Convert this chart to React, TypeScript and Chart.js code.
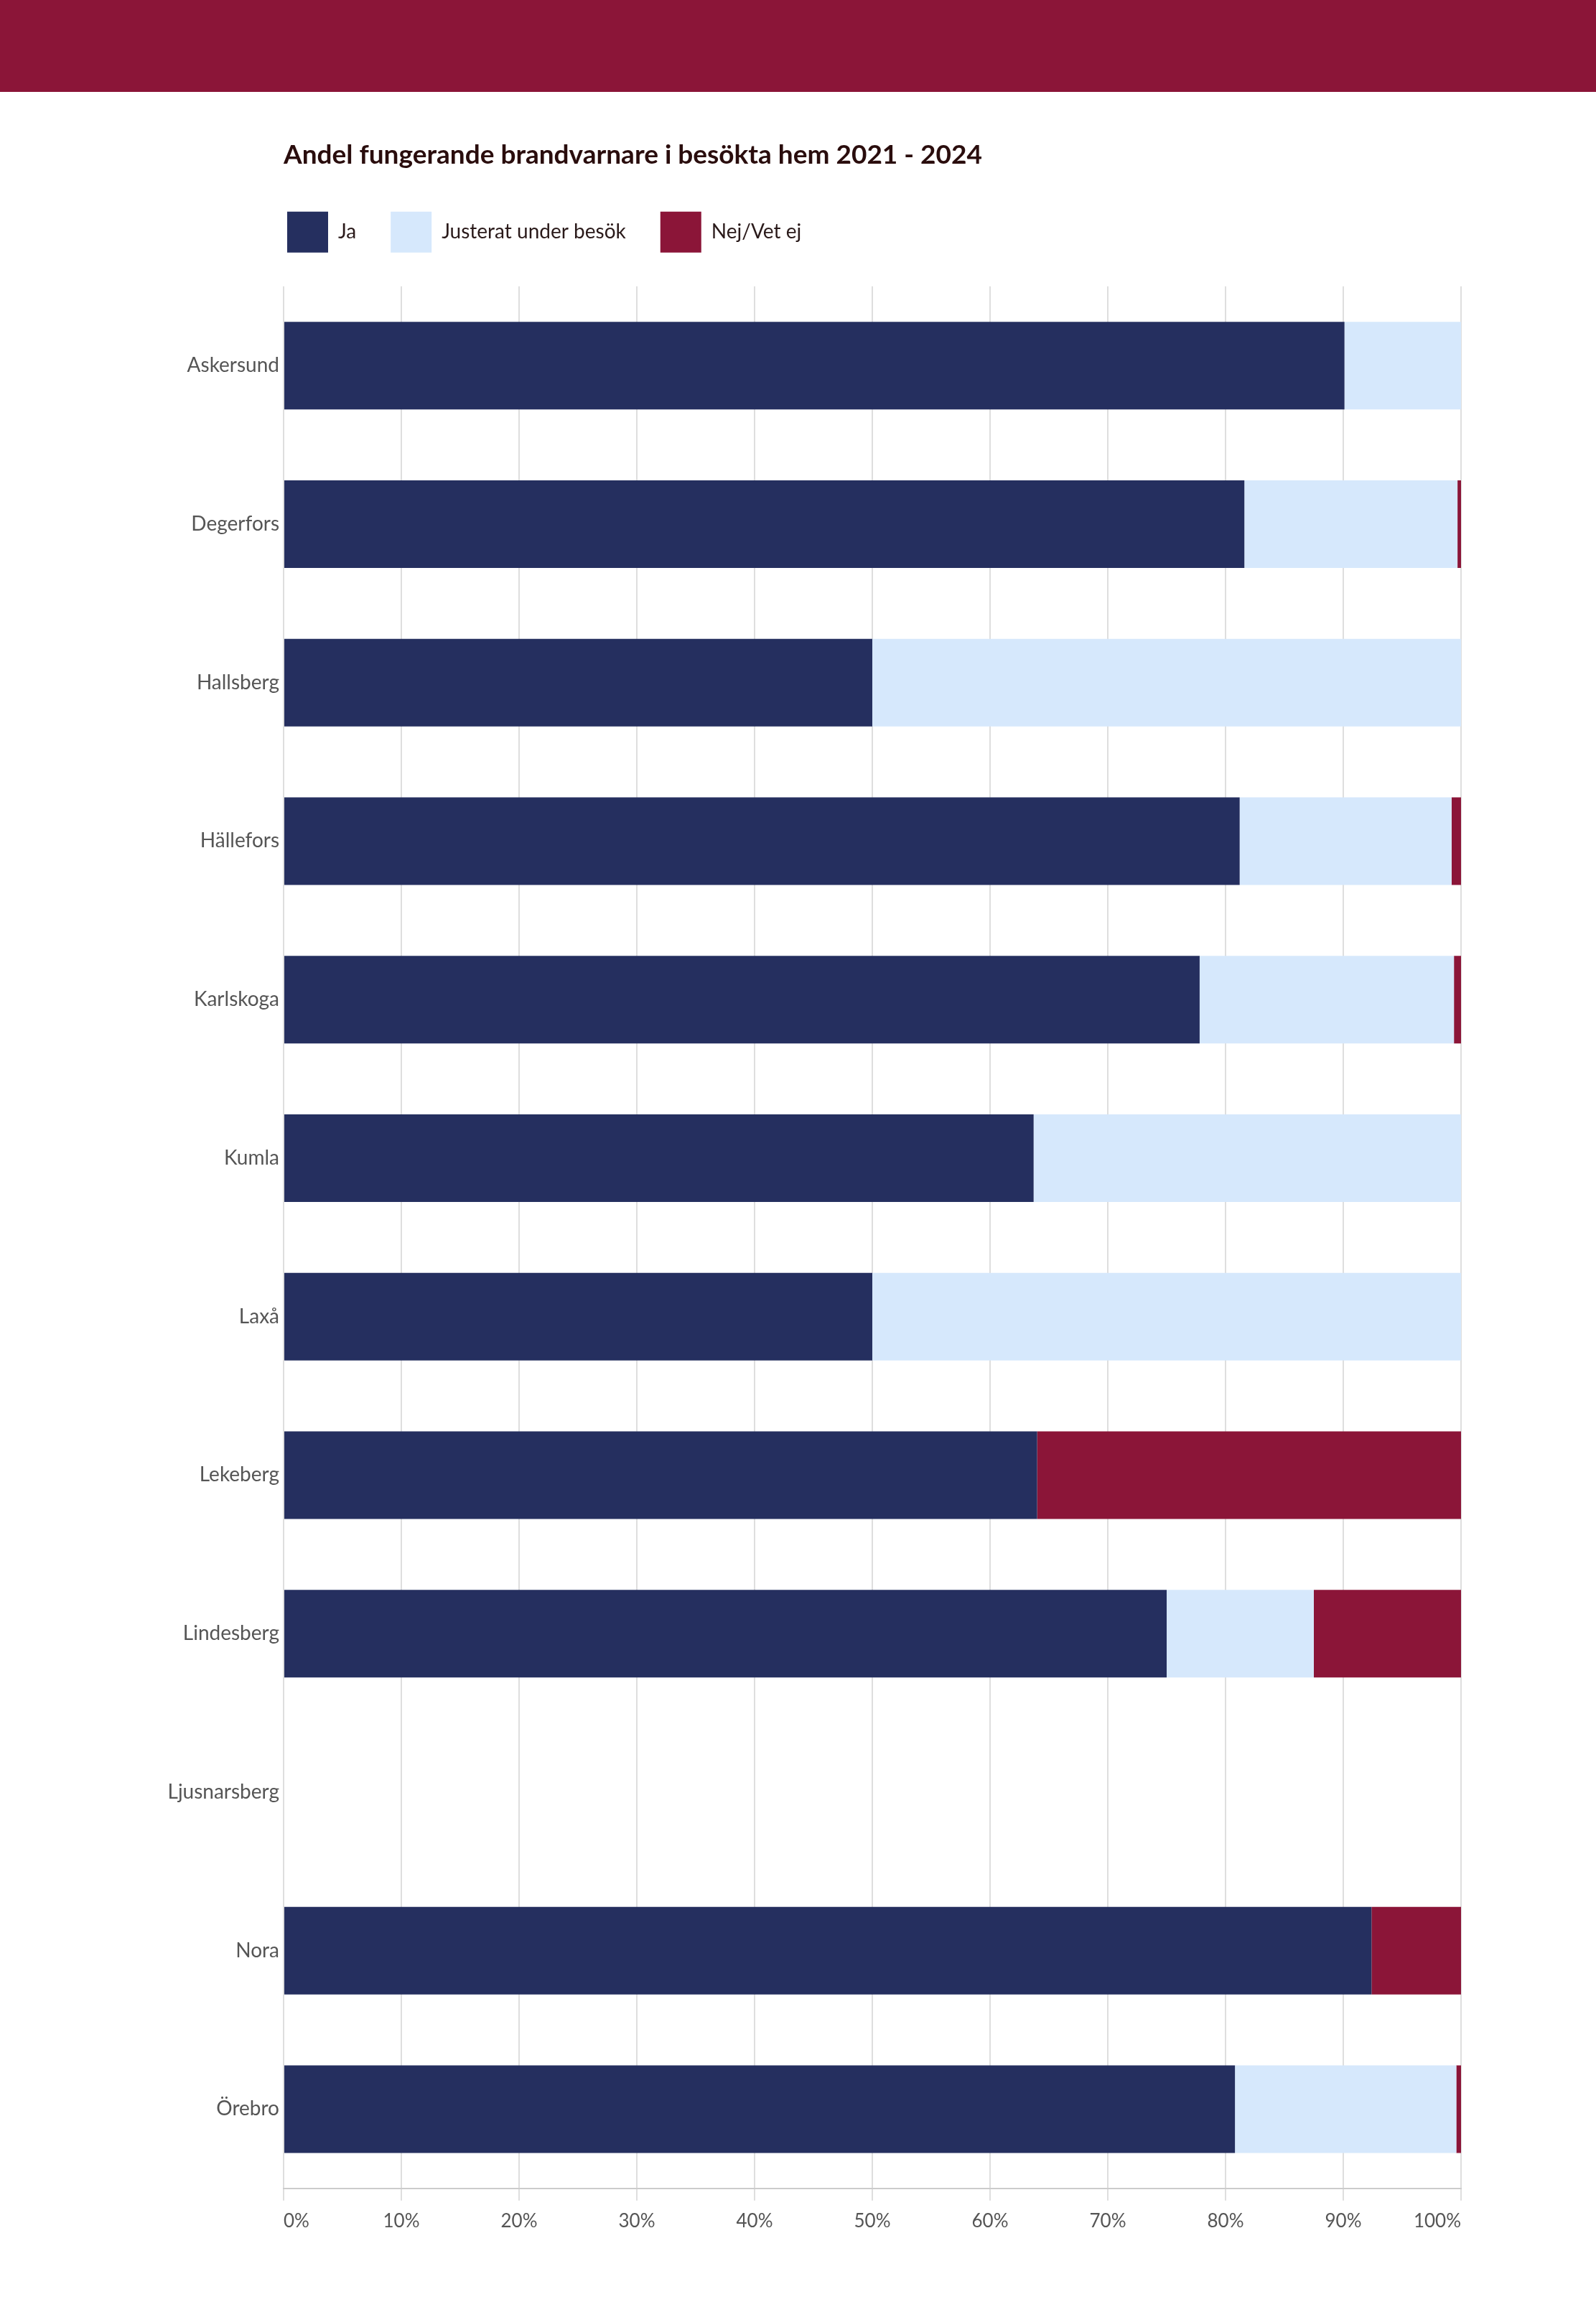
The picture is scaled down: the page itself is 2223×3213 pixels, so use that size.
import React, { useEffect, useRef } from "react";
import { Chart, registerables } from "chart.js";

Chart.register(...registerables);

const categories = [
  "Askersund",
  "Degerfors",
  "Hallsberg",
  "Hällefors",
  "Karlskoga",
  "Kumla",
  "Laxå",
  "Lekeberg",
  "Lindesberg",
  "Ljusnarsberg",
  "Nora",
  "Örebro",
];

const jaValues = [90.1, 81.6, 50, 81.2, 77.8, 63.7, 50, 64, 75, null, 92.4, 80.8];
const justeratValues = [9.9, 18.1, 50, 18.0, 21.6, 36.3, 50, 0, 12.5, null, 0, 18.8];
const nejValues = [0, 0.3, 0, 0.8, 0.6, 0, 0, 36, 12.5, null, 7.6, 0.4];

const seriesLabels = ["Ja", "Justerat under besök", "Nej/Vet ej"];
const titleText = "Andel fungerande brandvarnare i besökta hem 2021 - 2024";
const xTickStep = 10;

const NAVY = "#252f5f";
const LIGHT = "#d6e8fc";
const WINE = "#8b1538";
const FONT = "Lato, 'Open Sans', sans-serif";

const legendShift = {
  id: "legendShift",
  afterLayout(chart: any) {
    const pad = chart.options.plugins.legend.labels.padding;
    if (chart.legend) chart.legend.left = 400 - pad;
  },
};

export default function App() {
  const ref = useRef<HTMLCanvasElement | null>(null);

  useEffect(() => {
    if (!ref.current) return;
    const chart = new Chart(ref.current, {
      type: "bar",
      data: {
        labels: categories,
        datasets: [
          { label: seriesLabels[0], data: jaValues as any, backgroundColor: NAVY, borderWidth: 0 },
          { label: seriesLabels[1], data: justeratValues as any, backgroundColor: LIGHT, borderWidth: 0 },
          { label: seriesLabels[2], data: nejValues as any, backgroundColor: WINE, borderWidth: 0 },
        ],
      },
      plugins: [legendShift],
      options: {
        indexAxis: "y",
        responsive: false,
        animation: false,
        layout: { padding: { left: 0, right: 188, top: 0, bottom: 91 } },
        datasets: {
          bar: { categoryPercentage: 0.553, barPercentage: 1 },
        },
        plugins: {
          tooltip: { enabled: false },
          title: {
            display: true,
            text: titleText,
            align: "start",
            fullSize: false,
            color: "#2a0d0d",
            font: { family: FONT, size: 37, weight: "bold", lineHeight: 1.2 },
            padding: { top: 66, bottom: 8.4 },
          },
          legend: {
            display: true,
            position: "top",
            align: "start",
            labels: {
              boxWidth: 57,
              boxHeight: 57,
              padding: 48,
              color: "#2a1a1a",
              font: { family: FONT, size: 28 },
            },
          },
          subtitle: {
            display: true,
            text: "",
            position: "top",
            weight: 500,
            padding: 0,
            font: { size: 37, lineHeight: 1 },
          },
        },
        scales: {
          x: {
            stacked: true,
            min: 0,
            max: 100,
            ticks: {
              stepSize: xTickStep,
              callback: (v: any) => v + "%",
              color: "#555555",
              padding: 13,
              align: "inner",
              font: { family: FONT, size: 26 },
            },
            grid: {
              color: "#dedede",
              lineWidth: 2,
              tickLength: 17,
              drawTicks: true,
            },
            border: { display: true, color: "#cccccc", width: 2 },
          },
          y: {
            stacked: true,
            grid: { display: false, drawTicks: false },
            border: { display: false },
            ticks: {
              color: "#555555",
              padding: 6,
              font: { family: FONT, size: 28 },
            },
            afterFit: (scale: any) => {
              scale.width = 395;
            },
          },
        },
      },
    });
    return () => chart.destroy();
  }, []);

  return (
    <div style={{ position: "absolute", top: 0, left: 0, width: 2223, height: 3213, background: "#ffffff" }}>
      <div style={{ position: "absolute", top: 0, left: 0, width: 2223, height: 128, background: WINE }} />
      <canvas
        ref={ref}
        width={2223}
        height={3085}
        style={{ position: "absolute", top: 128, left: 0, width: 2223, height: 3085 }}
      />
    </div>
  );
}
